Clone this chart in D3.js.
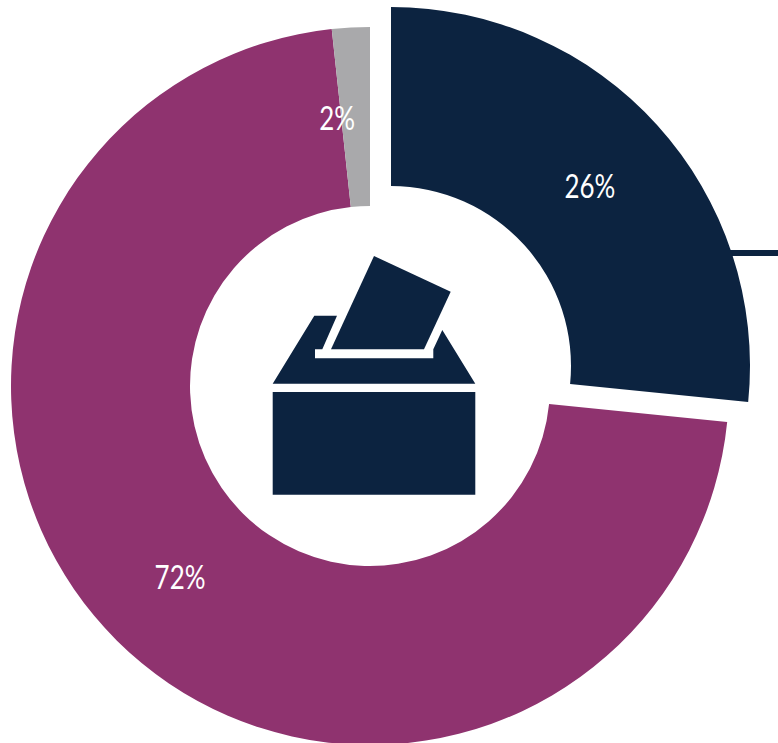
<!DOCTYPE html>
<html><head><meta charset="utf-8">
<script src="https://cdn.jsdelivr.net/npm/d3@7"></script>
<style>html,body{margin:0;padding:0;background:#fff}svg{display:block}</style>
</head><body><svg id="c" width="778" height="743"></svg>
<script>
const categories = ["Navy", "Purple", "Grey"];
const values = [26.6, 71.7, 1.7];
const labels = ["26%", "72%", "2%"];
const colors = ["#0c2340", "#8f336f", "#a9a9ab"];
const explode = [[21, -20], [0, 0], [0, 0]];
const labelShift = [[-1, 1.5], [0, 0], [-18.5, 2]];

const svg = d3.select("#c");
const cx = 370, cy = 386, R = 359, r = 180;
const pie = d3.pie().sort(null)(values);
const arc = d3.arc().innerRadius(r).outerRadius(R);

// leader stub
svg.append("line").attr("x1", 725).attr("x2", 778).attr("y1", 253).attr("y2", 253)
  .attr("stroke", colors[0]).attr("stroke-width", 6);

const g = svg.append("g").attr("transform", `translate(${cx},${cy})`);
g.selectAll("path").data(pie).join("path")
  .attr("d", arc)
  .attr("fill", (d, i) => colors[i])
  .attr("transform", (d, i) => `translate(${explode[i]})`);

g.selectAll("text").data(pie).join("text")
  .attr("transform", (d, i) => {
    const [x, y] = arc.centroid(d);
    return `translate(${x + explode[i][0] + labelShift[i][0]},${y + explode[i][1] + labelShift[i][1]}) scale(0.81,1)`;
  })
  .attr("text-anchor", "middle").attr("dy", "0.36em")
  .attr("font-family", "Lato, sans-serif").attr("font-size", 32)
  .attr("fill", "#fff")
  .text((d, i) => labels[i]);

// ballot box icon
const icon = [
  "M374,256L450.7,291.7L424,349.3L331,349.3Z",
  "M314.3,315.7L337,315.7L322.3,349.3L315,349.3L315,358.3L433.3,358.3L433.3,349.3L442.3,330L475.3,383.7L272.7,383.7Z",
  "M272.7,392L475.3,392L475.3,494.7L272.7,494.7Z"
];
svg.append("g").selectAll("path").data(icon).join("path").attr("d", d => d).attr("fill", colors[0]);
</script></body></html>
